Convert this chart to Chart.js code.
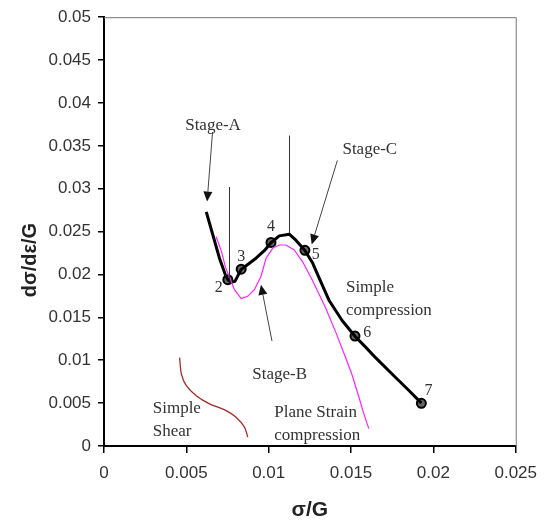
<!DOCTYPE html>
<html><head><meta charset="utf-8">
<script src="https://cdn.jsdelivr.net/npm/chart.js@4/dist/chart.umd.min.js"></script>
<style>html,body{margin:0;padding:0;background:#fff}#wrap{width:547px;height:524px}</style>
</head><body><div id="wrap"><canvas id="c" width="547" height="524"></canvas></div>
<script>
// Simple compression (black)
const compX = [0.00621,0.00661,0.00701,0.00738,0.00752,0.00772,0.00795,0.00833,0.00875,0.00923,0.00975,0.01014,0.01064,0.01125,0.01165,0.0122,0.01265,0.01306,0.01366,0.01447,0.01524,0.01590,0.01649,0.01749,0.0185,0.01927];
const compY = [0.0273,0.0246,0.0219,0.0199,0.0194,0.0191,0.0192,0.0206,0.0212,0.0219,0.0228,0.0237,0.0245,0.0247,0.0240,0.0228,0.0214,0.0196,0.0170,0.0146,0.0128,0.0115,0.0103,0.0084,0.0065,0.0050];
// numbered markers on the simple compression curve
const markLabels = ['2','3','4','5','6','7'];
const markX = [0.00752,0.00833,0.01014,0.0122,0.01524,0.01927];
const markY = [0.01939,0.02062,0.02374,0.02282,0.01282,0.00498];
// Plane strain compression (magenta)
const planeX = [0.00681,0.00713,0.00738,0.00762,0.00792,0.00833,0.00872,0.00913,0.00953,0.00984,0.01024,0.01064,0.01105,0.01155,0.01205,0.01266,0.01346,0.01407,0.01468,0.01508,0.01548,0.01578,0.01608];
const planeY = [0.0244,0.0227,0.0208,0.0197,0.01823,0.01719,0.01745,0.01823,0.01977,0.02189,0.02305,0.02344,0.02344,0.02286,0.02151,0.01931,0.0161,0.01328,0.01027,0.00819,0.00568,0.00375,0.00202];
// Simple shear (dark red)
const shearX = [0.00459,0.0047,0.005,0.0056,0.00641,0.00742,0.00802,0.00853,0.00873];
const shearY = [0.01031,0.00839,0.00703,0.00587,0.00491,0.00413,0.00336,0.0022,0.00104];
// tick labels
const xTickLabels = ['0','0.005','0.01','0.015','0.02','0.025'];
const yTickLabels = ['0','0.005','0.01','0.015','0.02','0.025','0.03','0.035','0.04','0.045','0.05'];
// annotations (data coordinates)
const noteTexts = [['Stage-A'],['Stage-C'],['Stage-B'],['Simple','compression'],['Plane Strain','compression'],['Simple','Shear']];
const noteX = [0.00662,0.01614,0.01067,0.01469,0.01034,0.00296];
const noteY = [0.0374,0.0346,0.0083,0.01842,0.00394,0.00433];
const noteAlign = ['center','center','center','left','left','left'];
const arrowFromX = [0.00659,0.01417,0.0102];
const arrowFromY = [0.0366,0.0333,0.01224];
const arrowToX = [0.00626,0.01261,0.00953];
const arrowToY = [0.0285,0.0235,0.0188];
const vlineX = [0.00756,0.01125];
const vlineTop = [0.0302,0.0362];
const vlineBottom = [0.0194,0.0248];
const markLabelX = [0.00697,0.00833,0.01014,0.01286,0.01598,0.01971];
const markLabelY = [0.01842,0.02209,0.02556,0.02228,0.0132,0.00645];

const pts = (xs, ys) => xs.map((x,i)=>({x, y: ys[i]}));
const serif = '"Liberation Serif","Times New Roman",serif';
const sans = '"Liberation Sans",Arial,sans-serif';

const deco = {
  id: 'deco',
  afterDraw(chart) {
    const {ctx, chartArea: a, scales: {x: sx, y: sy}} = chart;
    const px = v => sx.getPixelForValue(v), py = v => sy.getPixelForValue(v);
    ctx.save();
    // top/right frame
    ctx.strokeStyle = '#777'; ctx.lineWidth = 1;
    ctx.beginPath(); ctx.moveTo(a.left, a.top + 0.5); ctx.lineTo(a.right + 0.5, a.top + 0.5); ctx.lineTo(a.right + 0.5, a.bottom); ctx.stroke();
    // vertical lines
    ctx.strokeStyle = '#333'; ctx.lineWidth = 1;
    vlineX.forEach((v,i)=>{ ctx.beginPath(); ctx.moveTo(Math.round(px(v))+0.5, py(vlineTop[i])); ctx.lineTo(Math.round(px(v))+0.5, py(vlineBottom[i])); ctx.stroke(); });
    // arrows
    arrowFromX.forEach((v,i)=>{
      const x1 = px(v), y1 = py(arrowFromY[i]), x2 = px(arrowToX[i]), y2 = py(arrowToY[i]);
      const ang = Math.atan2(y2-y1, x2-x1), L = 10, W = 4.5;
      const bx = x2 - L*Math.cos(ang), by = y2 - L*Math.sin(ang);
      ctx.strokeStyle = '#444'; ctx.lineWidth = 1;
      ctx.beginPath(); ctx.moveTo(x1,y1); ctx.lineTo(bx,by); ctx.stroke();
      ctx.fillStyle = '#111';
      ctx.beginPath(); ctx.moveTo(x2,y2);
      ctx.lineTo(bx + W*Math.sin(ang), by - W*Math.cos(ang));
      ctx.lineTo(bx - W*Math.sin(ang), by + W*Math.cos(ang));
      ctx.closePath(); ctx.fill();
    });
    // notes
    ctx.fillStyle = '#333'; ctx.font = '17px ' + serif; ctx.textBaseline = 'middle';
    noteTexts.forEach((lines,i)=>{
      ctx.textAlign = noteAlign[i];
      lines.forEach((t,j)=> ctx.fillText(t, px(noteX[i]), py(noteY[i]) + j*23));
    });
    ctx.font = '16px ' + serif; ctx.textAlign = 'center';
    markLabels.forEach((t,i)=> ctx.fillText(t, px(markLabelX[i]), py(markLabelY[i])));
    // axis titles
    ctx.fillStyle = '#222';
    ctx.font = 'bold 21px ' + sans; ctx.textAlign = 'center';
    ctx.fillText('σ/G', (a.left + a.right)/2, 510);
    ctx.translate(30, 260); ctx.rotate(-Math.PI/2);
    ctx.font = 'bold 20px ' + sans;
    ctx.fillText('dσ/dε/G', 0, 0);
    ctx.restore();
  }
};

new Chart(document.getElementById('c'), {
  type: 'scatter',
  data: { datasets: [
    { label: 'Simple Shear', data: pts(shearX, shearY), showLine: true, borderColor: '#a52a2a', borderWidth: 1.3, pointRadius: 0, tension: 0.3 },
    { label: 'Plane Strain compression', data: pts(planeX, planeY), showLine: true, borderColor: '#ff22ff', borderWidth: 1.2, pointRadius: 0, tension: 0 },
    { label: 'Simple compression', data: pts(compX, compY), showLine: true, borderColor: '#000', borderWidth: 3, pointRadius: 0, tension: 0, borderJoinStyle: 'round' },
    { label: 'points', data: pts(markX, markY), showLine: false, pointRadius: 4.5, pointBorderWidth: 2, pointBorderColor: '#000', pointBackgroundColor: '#666' }
  ]},
  options: {
    responsive: false, animation: false, devicePixelRatio: 1,
    layout: { padding: { left: 0, right: 29, top: 14, bottom: 0 } },
    plugins: { legend: { display: false }, tooltip: { enabled: false } },
    scales: {
      x: { type: 'linear', min: 0, max: 0.025,
        afterFit: s => { s.height = 78; },
        ticks: { stepSize: 0.005, padding: 10, color: '#333', font: { family: sans, size: 17 }, callback: (v, i) => xTickLabels[i] },
        grid: { drawOnChartArea: false, drawTicks: true, tickLength: 7, color: '#000', lineWidth: 1.5 },
        border: { color: '#000', width: 2 } },
      y: { type: 'linear', min: 0, max: 0.05,
        afterFit: s => { s.width = 104; },
        ticks: { stepSize: 0.005, padding: 7, color: '#333', font: { family: sans, size: 17 }, callback: (v, i) => yTickLabels[i] },
        grid: { drawOnChartArea: false, drawTicks: true, tickLength: 6, color: '#000', lineWidth: 1.5 },
        border: { color: '#000', width: 2 } }
    }
  },
  plugins: [deco]
});
</script></body></html>
